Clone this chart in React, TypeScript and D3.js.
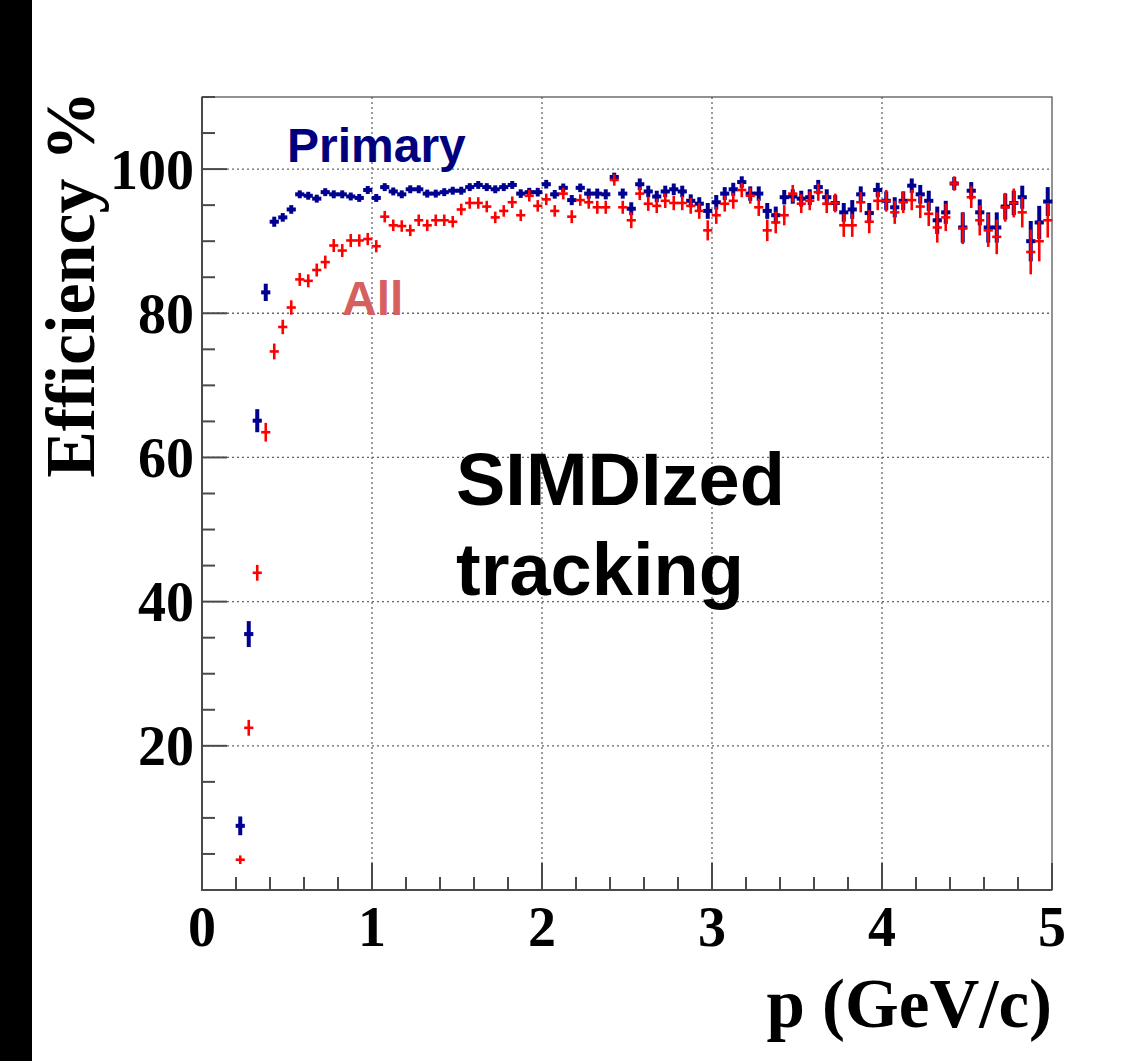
import React from "react";
import * as d3 from "d3";

const W = 1127;
const H = 1061;

// bin centres (GeV/c), bin width 0.05
const pCenters = [
  0.225, 0.275, 0.325, 0.375, 0.425, 0.475, 0.525, 0.575, 0.625, 0.675,
  0.725, 0.775, 0.825, 0.875, 0.925, 0.975, 1.025, 1.075, 1.125, 1.175,
  1.225, 1.275, 1.325, 1.375, 1.425, 1.475, 1.525, 1.575, 1.625, 1.675,
  1.725, 1.775, 1.825, 1.875, 1.925, 1.975, 2.025, 2.075, 2.125, 2.175,
  2.225, 2.275, 2.325, 2.375, 2.425, 2.475, 2.525, 2.575, 2.625, 2.675,
  2.725, 2.775, 2.825, 2.875, 2.925, 2.975, 3.025, 3.075, 3.125, 3.175,
  3.225, 3.275, 3.325, 3.375, 3.425, 3.475, 3.525, 3.575, 3.625, 3.675,
  3.725, 3.775, 3.825, 3.875, 3.925, 3.975, 4.025, 4.075, 4.125, 4.175,
  4.225, 4.275, 4.325, 4.375, 4.425, 4.475, 4.525, 4.575, 4.625, 4.675,
  4.725, 4.775, 4.825, 4.875, 4.925, 4.975,
];
const binHalfWidth = 0.027;

const primaryEff = [
  8.9, 35.5, 65.1, 82.9, 92.7, 93.3, 94.4, 96.5, 96.3, 95.9,
  96.8, 96.5, 96.5, 96.2, 96.0, 97.1, 96.0, 97.5, 96.9, 96.5,
  97.2, 97.2, 96.6, 96.6, 96.8, 97.0, 97.0, 97.5, 97.8, 97.5,
  97.2, 97.5, 97.8, 96.6, 96.8, 96.8, 97.9, 96.5, 97.4, 95.7,
  97.4, 96.6, 96.6, 96.5, 98.9, 96.6, 94.5, 97.9, 96.9, 96.2,
  96.9, 97.2, 96.9, 95.6, 95.2, 94.2, 95.4, 96.6, 97.2, 98.2,
  96.6, 96.6, 94.2, 93.6, 96.1, 96.2, 95.9, 96.1, 97.5, 96.1,
  95.3, 94.0, 94.4, 96.5, 93.9, 97.1, 95.6, 94.7, 95.6, 97.7,
  96.5, 95.6, 92.9, 94.0, 98.0, 91.9, 97.0, 94.0, 91.9, 91.9,
  94.8, 95.3, 96.1, 90.0, 92.6, 95.5,
];
const primaryErr = [
  1.3, 1.8, 1.6, 1.2, 0.7, 0.6, 0.6, 0.55, 0.55, 0.55,
  0.55, 0.55, 0.55, 0.55, 0.55, 0.55, 0.55, 0.55, 0.55, 0.55,
  0.55, 0.55, 0.55, 0.55, 0.55, 0.55, 0.55, 0.55, 0.55, 0.55,
  0.55, 0.55, 0.55, 0.6, 0.6, 0.6, 0.6, 0.6, 0.6, 0.7,
  0.6, 0.7, 0.7, 0.7, 0.6, 0.7, 0.9, 0.8, 0.8, 0.8,
  0.8, 0.8, 0.8, 0.9, 0.9, 1.1, 1.0, 0.9, 0.9, 0.8,
  1.0, 1.0, 1.1, 1.2, 1.0, 1.0, 1.1, 1.1, 1.0, 1.1,
  1.1, 1.3, 1.3, 1.1, 1.4, 1.0, 1.3, 1.4, 1.3, 1.0,
  1.3, 1.4, 1.9, 1.6, 0.9, 2.1, 1.2, 1.8, 2.1, 2.1,
  1.8, 1.7, 1.6, 2.8, 2.3, 2.0,
];

const allEff = [
  4.2, 22.5, 44.0, 63.5, 74.7, 78.1, 80.8, 84.7, 84.5, 86.0,
  87.1, 89.4, 88.7, 90.1, 90.1, 90.3, 89.3, 93.4, 92.2, 92.1,
  91.5, 92.9, 92.2, 92.9, 92.9, 92.7, 94.4, 95.3, 95.3, 94.8,
  93.3, 94.2, 95.4, 93.6, 96.3, 94.9, 95.8, 94.2, 96.6, 93.4,
  95.7, 95.4, 94.7, 94.7, 98.5, 94.7, 92.9, 96.6, 95.2, 94.9,
  95.6, 95.3, 95.3, 94.9, 94.2, 91.5, 93.6, 95.2, 95.6, 97.1,
  96.3, 94.7, 91.5, 92.6, 93.6, 96.6, 95.2, 95.6, 96.8, 95.2,
  95.3, 92.2, 92.2, 95.4, 92.7, 95.6, 95.6, 94.0, 95.4, 95.7,
  94.8, 93.8, 91.9, 93.3, 98.0, 91.8, 96.1, 92.9, 91.5, 90.6,
  94.7, 95.3, 94.0, 88.5, 90.0, 92.9,
];
const allErr = [
  0.6, 1.1, 1.1, 1.3, 1.1, 1.0, 1.0, 0.9, 0.9, 0.9,
  0.9, 0.9, 0.9, 0.9, 0.85, 0.85, 0.85, 0.8, 0.8, 0.8,
  0.8, 0.8, 0.8, 0.8, 0.8, 0.8, 0.8, 0.8, 0.8, 0.8,
  0.8, 0.8, 0.8, 0.8, 0.8, 0.8, 0.8, 0.8, 0.8, 0.9,
  0.8, 0.9, 0.9, 0.9, 0.8, 0.9, 1.1, 0.9, 1.0, 1.0,
  1.0, 1.0, 1.0, 1.1, 1.1, 1.4, 1.2, 1.1, 1.1, 1.0,
  1.1, 1.2, 1.5, 1.5, 1.4, 1.2, 1.3, 1.3, 1.2, 1.3,
  1.3, 1.6, 1.6, 1.4, 1.6, 1.3, 1.5, 1.6, 1.5, 1.4,
  1.6, 1.7, 2.1, 1.9, 1.0, 2.2, 1.5, 2.1, 2.3, 2.4,
  2.0, 2.0, 2.1, 3.1, 2.8, 2.4,
];

const xTickLabels = ["0", "1", "2", "3", "4", "5"];
const yTickLabels = ["20", "40", "60", "80", "100"];

const xTitle = "p (GeV/c)";
const yTitle = "Efficiency %";

const frame = { left: 202, right: 1052, top: 97, bottom: 890 };

const SERIF = "'Liberation Serif', 'Times New Roman', serif";
const SANS = "'Liberation Sans', Arial, sans-serif";
const AXIS_COLOR = "#4a4a4a";
const BLUE = "#000090";
const RED = "#ff0000";

export default function App() {
  const x = d3.scaleLinear().domain([0, 5]).range([frame.left, frame.right]);
  const y = d3.scaleLinear().domain([0, 110]).range([frame.bottom, frame.top]);

  const xTicks = d3.range(0, 5.0001, 0.2).map((v) => +v.toFixed(1));
  const yTicks = d3.range(0, 110.0001, 5);

  const series = [
    { vals: primaryEff, errs: primaryErr, color: BLUE, lw: 4 },
    { vals: allEff, errs: allErr, color: RED, lw: 2.6 },
  ];

  return (
    <svg
      width={W}
      height={H}
      style={{ position: "absolute", left: 0, top: 0, background: "#fff" }}
    >
      <rect x={0} y={0} width={W} height={H} fill="#fff" />
      <rect x={0} y={0} width={32} height={H} fill="#000" />

      {/* grid */}
      <g stroke="#666" strokeWidth={1.3} strokeDasharray="2,3">
        {xTickLabels.slice(1, 5).map((t) => (
          <line key={"gx" + t} x1={x(+t)} x2={x(+t)} y1={frame.top} y2={frame.bottom} />
        ))}
        {yTickLabels.map((t) => (
          <line key={"gy" + t} x1={frame.left} x2={frame.right} y1={y(+t)} y2={y(+t)} />
        ))}
      </g>

      {/* frame */}
      <rect
        x={frame.left}
        y={frame.top}
        width={frame.right - frame.left}
        height={frame.bottom - frame.top}
        fill="none"
        stroke={AXIS_COLOR}
        strokeWidth={1.2}
      />
      <line x1={frame.left} x2={frame.left} y1={frame.top} y2={frame.bottom + 1} stroke={AXIS_COLOR} strokeWidth={2} />
      <line x1={frame.left - 1} x2={frame.right} y1={frame.bottom} y2={frame.bottom} stroke={AXIS_COLOR} strokeWidth={2} />

      {/* ticks */}
      <g stroke={AXIS_COLOR} strokeWidth={2}>
        {yTicks.map((v) => {
          const major = v % 20 === 0;
          return (
            <line key={"ty" + v} x1={frame.left} x2={frame.left + (major ? 25 : 13)} y1={y(v)} y2={y(v)} />
          );
        })}
        {xTicks.map((v) => {
          const major = Math.abs(v - Math.round(v)) < 1e-6;
          return (
            <line key={"tx" + v} x1={x(v)} x2={x(v)} y1={frame.bottom} y2={frame.bottom - (major ? 27 : 13)} />
          );
        })}
      </g>

      {/* tick labels */}
      <g fontFamily={SERIF} fontWeight="bold" fontSize={56} fill="#000">
        {yTickLabels.map((t) => (
          <text key={"ly" + t} x={194} y={y(+t)} dy="0.35em" textAnchor="end">
            {t}
          </text>
        ))}
        {xTickLabels.map((t) => (
          <text key={"lx" + t} x={x(+t)} y={946} textAnchor="middle">
            {t}
          </text>
        ))}
      </g>

      {/* axis titles */}
      <text
        x={1052}
        y={1027}
        textAnchor="end"
        fontFamily={SERIF}
        fontWeight="bold"
        fontSize={69}
        fill="#000"
      >
        {xTitle}
      </text>
      <text
        transform={`translate(94, 91) rotate(-90)`}
        textAnchor="end"
        fontFamily={SERIF}
        fontWeight="bold"
        fontSize={70}
        fill="#000"
      >
        {yTitle}
      </text>

      {/* data */}
      {series.map((s, si) => (
        <g key={"s" + si} stroke={s.color} strokeWidth={s.lw}>
          {pCenters.map((p, i) => (
            <g key={i}>
              <line x1={x(p - binHalfWidth)} x2={x(p + binHalfWidth)} y1={y(s.vals[i])} y2={y(s.vals[i])} />
              <line x1={x(p)} x2={x(p)} y1={y(s.vals[i] - s.errs[i])} y2={y(s.vals[i] + s.errs[i])} />
            </g>
          ))}
        </g>
      ))}

      {/* annotations */}
      <text x={287} y={162} fontFamily={SANS} fontWeight="bold" fontSize={48} fill="#00007f">
        Primary
      </text>
      <text x={342} y={315} fontFamily={SANS} fontWeight="bold" fontSize={48} fill="#d65f5f">
        All
      </text>
      <text x={456} y={505} fontFamily={SANS} fontWeight="bold" fontSize={74} fill="#000">
        SIMDIzed
      </text>
      <text x={456} y={595} fontFamily={SANS} fontWeight="bold" fontSize={74} fill="#000">
        tracking
      </text>
    </svg>
  );
}
